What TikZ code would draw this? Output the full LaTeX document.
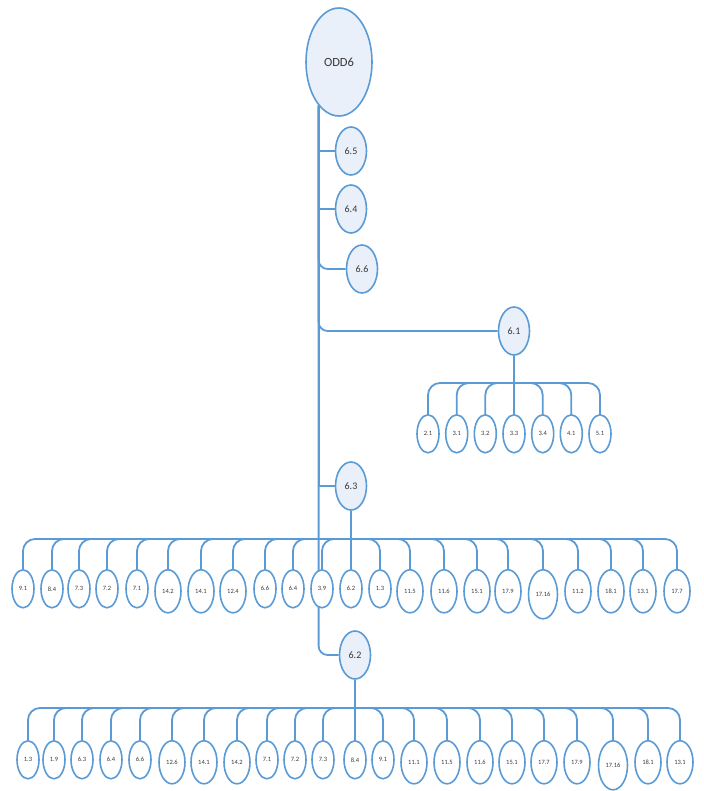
\documentclass[tikz,border=0pt]{standalone}
\usepackage{fontspec}
\setmainfont{Carlito}
\usetikzlibrary{shapes.geometric}
\definecolor{lb}{HTML}{5B9BD5}
\definecolor{fillb}{HTML}{E9F0F9}
\definecolor{txt}{HTML}{383838}
\begin{document}
\begin{tikzpicture}[x=1pt,y=-1pt,
 bub/.style={ellipse,draw=lb,line width=1.6pt,inner sep=0pt,text=txt},
 lvl/.style={bub,fill=fillb,minimum width=31pt,minimum height=48pt,font=\fontsize{10}{10}\selectfont},
 kid/.style={bub,fill=white,anchor=north,font=\fontsize{6.5}{6.5}\selectfont},
 sa/.style={kid,minimum width=22pt,minimum height=38pt},
 sb/.style={kid,minimum width=26pt,minimum height=43pt},
 sc/.style={kid,minimum width=29pt,minimum height=49pt},
 con/.style={draw=lb,line width=1.8pt},
 rc/.style={con,rounded corners=12pt}]
\useasboundingbox (0,0) rectangle (703,791);
\node[bub,fill=fillb,minimum width=66pt,minimum height=108pt,font=\fontsize{12.5}{12.5}\selectfont] (odd) at (339,62) {ODD6};
\node[lvl] (n65) at (351,151) {6.5};
\node[lvl] (n64) at (351,209) {6.4};
\node[lvl] (n66) at (362,269) {6.6};
\node[lvl] (n61) at (514,331) {6.1};
\node[lvl] (n63) at (351,486) {6.3};
\node[lvl] (n62) at (355,655) {6.2};
\coordinate (tr) at (odd.245);
\coordinate (ya) at (0,383);
\coordinate (yb) at (0,539);
\coordinate (yc) at (0,708);
% trunk and branches
\draw[con,rounded corners=9pt] (tr) |- (n62.west);
\draw[con] (tr) |- (n65.west);
\draw[con] (tr) |- (n64.west);
\draw[con,rounded corners=9pt] (tr) |- (n66.west);
\draw[con,rounded corners=9pt] (tr) |- (n61.west);
\draw[con] (tr) |- (n63.west);
% 6.1 children
\draw[con] (n61.south) -- (n61.south |- ya);
\foreach \x/\l [count=\i] in {428/2.1,456.7/3.1,485.3/3.2,514/3.3,542.7/3.4,571.3/4.1,600/5.1}{
  \node[sa] (a\i) at (\x,414) {\l};
  \draw[rc] (a\i.north) |- (n61.south |- ya);
}
% 6.3 children
\draw[con] (n63.south) -- (n63.south |- yb);
\foreach \x/\l/\s [count=\i] in {23/9.1/sa,52/8.4/sa,79/7.3/sa,107/7.2/sa,137/7.1/sa,168/14.2/sb,201/14.1/sb,233/12.4/sb,265/6.6/sa,293/6.4/sa,322/3.9/sa,351/6.2/sa,380/1.3/sa,410/11.5/sb,444/11.6/sb,477/15.1/sb,508/17.9/sb,543/17.16/sc,578/11.2/sb,611/18.1/sb,643/13.1/sb,677/17.7/sb}{
  \node[\s] (b\i) at (\x,569) {\l};
  \draw[rc] (b\i.north) |- (n63.south |- yb);
}
% 6.2 children
\draw[con] (n62.south) -- (n62.south |- yc);
\foreach \x/\l/\s [count=\i] in {28/1.3/sa,54/1.9/sa,82/6.3/sa,111/6.4/sa,140/6.6/sa,172/12.6/sb,204/14.1/sb,237/14.2/sb,267/7.1/sa,295/7.2/sa,323/7.3/sa,355/8.4/sa,383/9.1/sa,414/11.1/sb,447/11.5/sb,480/11.6/sb,512/15.1/sb,544/17.7/sb,577/17.9/sb,613/17.16/sc,648/18.1/sb,680/13.1/sb}{
  \node[\s] (c\i) at (\x,740) {\l};
  \draw[rc] (c\i.north) |- (n62.south |- yc);
}
\end{tikzpicture}
\end{document}
